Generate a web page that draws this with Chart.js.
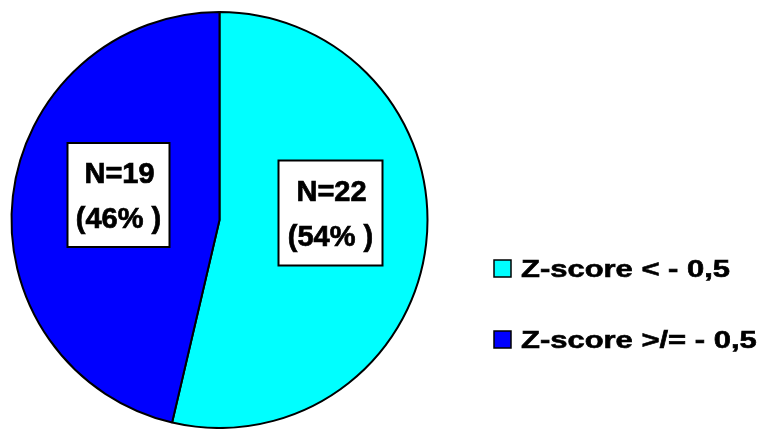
<!DOCTYPE html>
<html>
<head>
<meta charset="utf-8">
<script src="https://cdn.jsdelivr.net/npm/chart.js@4.4.1/dist/chart.umd.min.js"></script>
<style>
  html, body { margin: 0; padding: 0; background: #ffffff; }
  #wrap { width: 759px; height: 429px; position: relative; }
</style>
</head>
<body>
<div id="wrap"><canvas id="c" width="759" height="429"></canvas></div>
<script>
// Groups and counts
const categories = ['Z-score < - 0,5', 'Z-score >/= - 0,5'];
const counts = [22, 19];
const colors = ['#00FFFF', '#0000FF'];

const FONT = '"Liberation Sans", Arial, Helvetica, sans-serif';

// Bold text with a thin outline so it reads heavier
function heavyText(ctx, txt, x, y) {
  ctx.fillText(txt, x, y);
  ctx.strokeText(txt, x, y);
}

// White boxed value labels inside each slice: "N=.." and "(..%)"
const valueBoxes = {
  id: 'valueBoxes',
  afterDatasetsDraw(chart, args, opts) {
    const ctx = chart.ctx;
    const meta = chart.getDatasetMeta(0);
    const data = chart.data.datasets[0].data;
    const total = data.reduce((a, b) => a + b, 0);
    meta.data.forEach((arc, i) => {
      const box = opts.boxes[i];
      const cx = arc.x + box.dx, cy = arc.y + box.dy;
      const w = box.w, h = box.h;
      ctx.save();
      ctx.fillStyle = '#ffffff';
      ctx.fillRect(cx - w / 2, cy - h / 2, w, h);
      ctx.lineWidth = 2;
      ctx.strokeStyle = '#000000';
      ctx.strokeRect(cx - w / 2, cy - h / 2, w, h);
      ctx.fillStyle = '#000000';
      ctx.lineWidth = 0.7;
      ctx.font = 'bold 29px ' + FONT;
      ctx.textAlign = 'center';
      ctx.textBaseline = 'alphabetic';
      const pct = Math.round(data[i] / total * 100);
      heavyText(ctx, 'N=' + data[i], cx + 1, cy - 12);
      heavyText(ctx, '(' + pct + '% )', cx, cy + 33);
      ctx.restore();
    });
  }
};

// Legend on the right with square colour keys
const sideLegend = {
  id: 'sideLegend',
  afterDraw(chart, args, opts) {
    const ctx = chart.ctx;
    const labels = chart.data.labels;
    const bg = chart.data.datasets[0].backgroundColor;
    ctx.save();
    labels.forEach((lab, i) => {
      const y = opts.y0 + i * opts.step;
      ctx.fillStyle = bg[i];
      ctx.fillRect(opts.x, y - 9, 17, 17);
      ctx.lineWidth = 1.5;
      ctx.strokeStyle = '#000000';
      ctx.strokeRect(opts.x, y - 9, 17, 17);
      ctx.save();
      ctx.translate(opts.x + 27, y + 8);
      ctx.scale(1.29, 1);
      ctx.fillStyle = '#000000';
      ctx.lineWidth = 0.6;
      ctx.font = 'bold 24px ' + FONT;
      ctx.textAlign = 'left';
      ctx.textBaseline = 'alphabetic';
      heavyText(ctx, lab, 0, 0);
      ctx.restore();
    });
    ctx.restore();
  }
};

new Chart(document.getElementById('c'), {
  type: 'pie',
  data: {
    labels: categories,
    datasets: [{
      data: counts,
      backgroundColor: colors,
      borderColor: '#000000',
      borderWidth: 2,
      borderAlign: 'center'
    }]
  },
  options: {
    responsive: false,
    animation: false,
    radius: 208,
    layout: { padding: { left: 10, top: 11, right: 330, bottom: 0 } },
    plugins: {
      legend: { display: false },
      tooltip: { enabled: false },
      valueBoxes: {
        boxes: [
          { dx: 111, dy: -7, w: 104, h: 105 },
          { dx: -101, dy: -25, w: 102, h: 104 }
        ]
      },
      sideLegend: { x: 494, y0: 269, step: 71 }
    }
  },
  plugins: [valueBoxes, sideLegend]
});
</script>
</body>
</html>
